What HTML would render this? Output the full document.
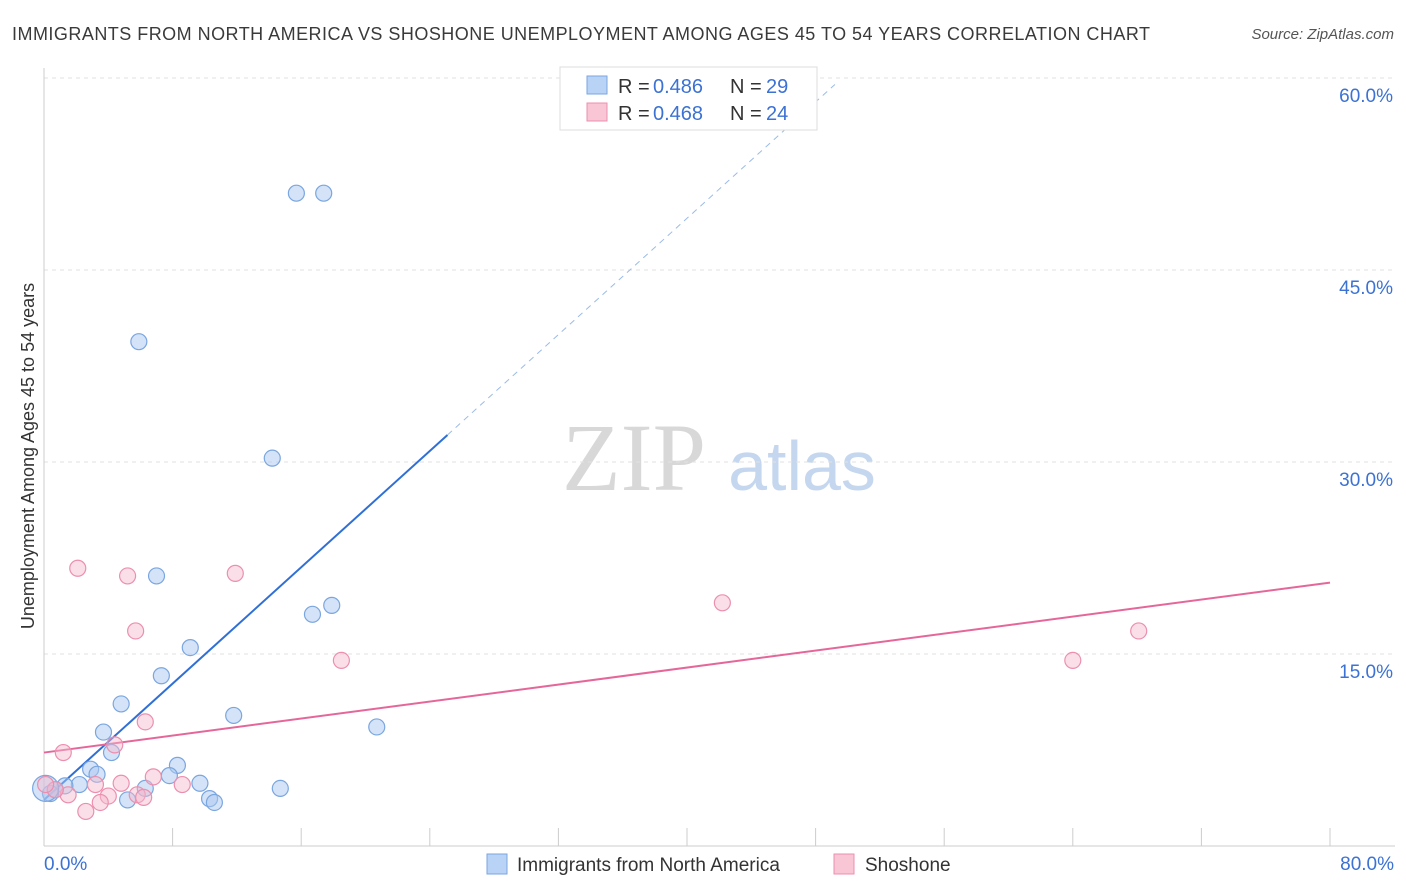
<!DOCTYPE html>
<html><head><meta charset="utf-8"><style>
body{margin:0;background:#fff;font-family:"Liberation Sans",sans-serif;}
svg{display:block}
</style></head><body>
<svg id="chart" width="1406" height="892" xmlns="http://www.w3.org/2000/svg">
<text x="12" y="40" font-size="18" fill="#3a3a3a" textLength="1138">IMMIGRANTS FROM NORTH AMERICA VS SHOSHONE UNEMPLOYMENT AMONG AGES 45 TO 54 YEARS CORRELATION CHART</text>
<text x="1394" y="39" font-size="15" fill="#555" font-style="italic" text-anchor="end">Source: ZipAtlas.com</text>
<g>
<text x="634" y="490" font-size="96" fill="#d8d8d8" font-family="Liberation Serif,serif" text-anchor="middle">ZIP</text>
<text x="802" y="490" font-size="70" fill="#c5d7ef" text-anchor="middle">atlas</text>
</g>
<g id="grid"></g>
<g id="axes"></g>
<g id="lines"></g>
<g id="points"></g>
<text transform="translate(34,456) rotate(-90)" font-size="18" fill="#333" text-anchor="middle">Unemployment Among Ages 45 to 54 years</text>
<g font-size="20">
<rect x="560" y="67" width="257" height="63" fill="#fff" stroke="#ddd"/>
<rect x="587" y="76" width="20" height="18" fill="#b8d3f5" stroke="#7aa6e0"/>
<text x="618" y="93" fill="#333">R = </text><text x="653" y="93" fill="#3b72d4">0.486</text>
<text x="730" y="93" fill="#333">N = </text><text x="766" y="93" fill="#3b72d4">29</text>
<rect x="587" y="103" width="20" height="18" fill="#f9c6d6" stroke="#ec8fae"/>
<text x="618" y="120" fill="#333">R = </text><text x="653" y="120" fill="#3b72d4">0.468</text>
<text x="730" y="120" fill="#333">N = </text><text x="766" y="120" fill="#3b72d4">24</text>
</g>
<g>
<rect x="487" y="854" width="20" height="20" fill="#b8d3f5" stroke="#7aa6e0"/>
<text x="517" y="871" font-size="19" fill="#333">Immigrants from North America</text>
<rect x="834" y="854" width="20" height="20" fill="#f9c6d6" stroke="#ec8fae"/>
<text x="865" y="871" font-size="19" fill="#333">Shoshone</text>
</g>
</svg>
<script>
const yTicks=[15,30,45,60];
const yTickLabels=["15.0%","30.0%","45.0%","60.0%"];
const xTickVals=[0,8,16,24,32,40,48,56,64,72,80];
const xEndLabels=["0.0%","80.0%"];
const blueX=[15.7,17.4,5.9,14.2,7.0,17.9,16.7,9.1,7.3,4.8,11.8,20.7,3.7,4.2,8.3,2.9,3.3,7.8,9.7,6.3,14.7,10.3,10.6,5.2,2.2,1.3,0.7,0.4,0.1];
const blueY=[51.0,51.0,39.4,30.3,21.1,18.8,18.1,15.5,13.3,11.1,10.2,9.3,8.9,7.3,6.3,6.0,5.6,5.5,4.9,4.5,4.5,3.7,3.4,3.6,4.8,4.7,4.4,4.1,4.5];
const pinkX=[2.1,5.2,11.9,42.2,5.7,68.1,18.5,64.0,6.3,4.4,1.2,6.8,4.8,8.6,3.2,5.8,6.2,4.0,3.5,2.6,1.5,0.7,0.1];
const pinkY=[21.7,21.1,21.3,19.0,16.8,16.8,14.5,14.5,9.7,7.9,7.3,5.4,4.9,4.8,4.8,4.0,3.8,3.9,3.4,2.7,4.0,4.4,4.8];
const blueTrend=[3.6,1.136];
const pinkTrend=[7.3,0.166];
const blueSolidEnd=25.1, blueDashEnd=49.2;
const NS="http://www.w3.org/2000/svg";
const X=v=>44+v*16.075, Y=v=>846-v*12.8;
function mk(tag,attrs,parent){const e=document.createElementNS(NS,tag);for(const k in attrs)e.setAttribute(k,attrs[k]);document.getElementById(parent).appendChild(e);return e;}
yTicks.forEach((t,i)=>{
 const l=mk('line',{x1:44,x2:1395,y1:Y(t),y2:Y(t),stroke:'#e2e2e2','stroke-dasharray':'4,4'},'grid');
 
 
 const tx=mk('text',{x:1393,y:Y(t)+24,'font-size':19,fill:'#3b72d4','text-anchor':'end'},'grid');
 tx.textContent=yTickLabels[i];
 
 
});
const ax=mk('line',{x1:44,x2:44,y1:68,y2:846,stroke:'#ccc'},'axes');


const bx=mk('line',{x1:44,x2:1395,y1:846,y2:846,stroke:'#ccc'},'axes');


xTickVals.forEach(v=>{
 const t=mk('line',{x1:X(v),x2:X(v),y1:828,y2:846,stroke:'#ccc'},'axes');
 
 
});
[[0,'start',44],[80,'end',1394]].forEach((d,i)=>{
 const t=mk('text',{x:d[2],y:870,'font-size':19,fill:'#3b72d4','text-anchor':d[1]},'axes');
 t.textContent=xEndLabels[i];
 
 
});
const bs=mk('line',{x1:X(0),y1:Y(blueTrend[0]),x2:X(blueSolidEnd),y2:Y(blueTrend[0]+blueTrend[1]*blueSolidEnd),stroke:'#2f6fd6','stroke-width':2},'lines');


const bd=mk('line',{x1:X(blueSolidEnd),y1:Y(blueTrend[0]+blueTrend[1]*blueSolidEnd),x2:X(blueDashEnd),y2:Y(blueTrend[0]+blueTrend[1]*blueDashEnd),stroke:'#9bbbe8','stroke-width':1,'stroke-dasharray':'6,5'},'lines');


const pl=mk('line',{x1:X(0),y1:Y(pinkTrend[0]),x2:X(80),y2:Y(pinkTrend[0]+pinkTrend[1]*80),stroke:'#e5679a','stroke-width':2},'lines');


blueX.forEach((v,i)=>{
 const c=mk('circle',{cx:X(v),cy:Y(blueY[i]),r:i==blueX.length-1?13:8,fill:'rgba(169,200,240,0.5)',stroke:'#7aa6e0','stroke-width':1.2},'points');
 
 
});
pinkX.forEach((v,i)=>{
 const c=mk('circle',{cx:X(v),cy:Y(pinkY[i]),r:8,fill:'rgba(245,184,203,0.45)',stroke:'#ec8fae','stroke-width':1.2},'points');
 
 
});
</script>
</body></html>
